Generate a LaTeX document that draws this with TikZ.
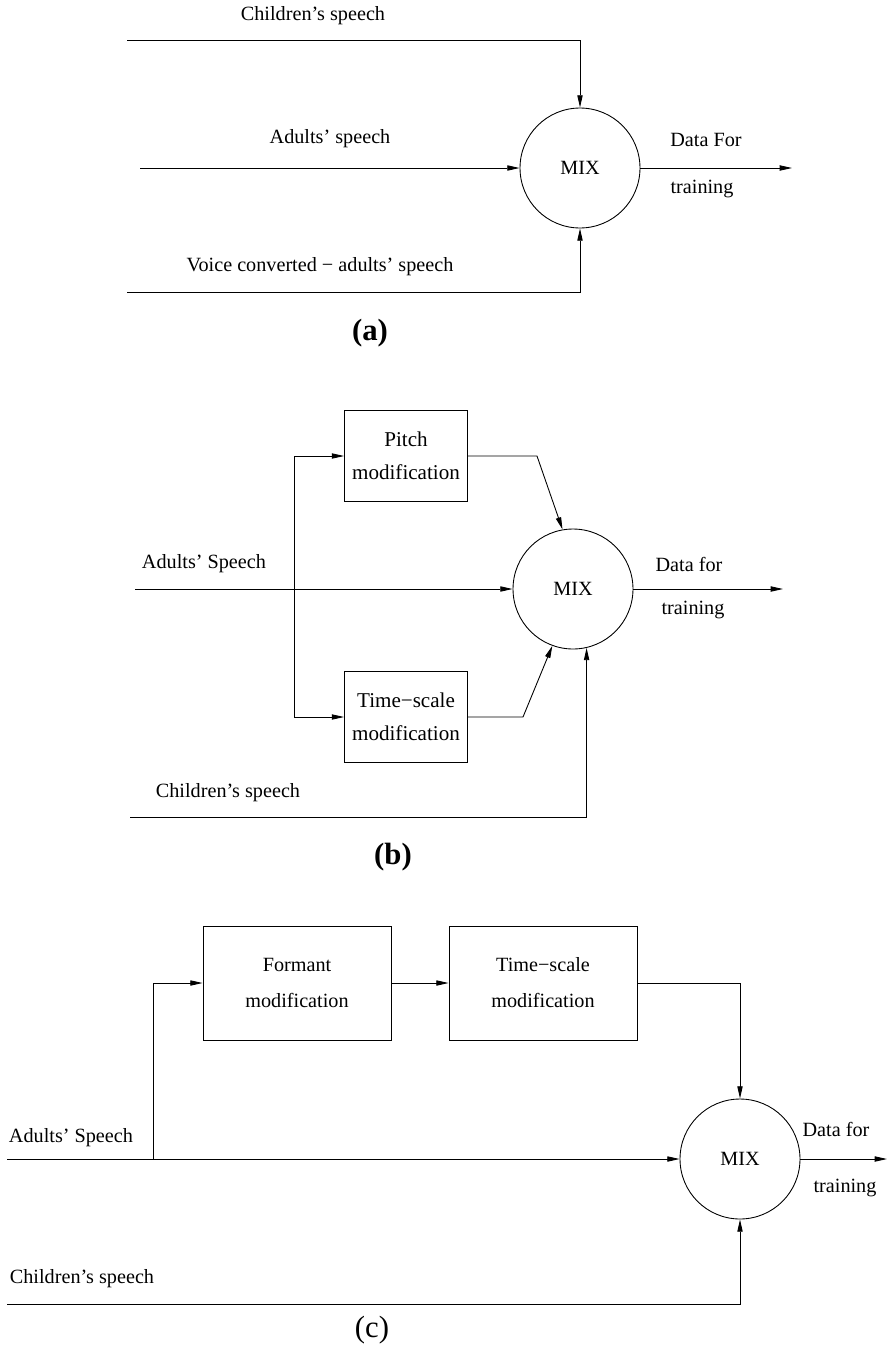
\documentclass[tikz,border=0pt]{standalone}
\usepackage{fontspec}
\setmainfont{Liberation Serif}
\usetikzlibrary{arrows.meta}
\begin{document}
\begin{tikzpicture}[x=0.02cm,y=-0.02cm,>={Triangle[length=7pt,width=3pt]},line width=.5pt,
  font=\fontsize{11.5}{13}\selectfont,
  mix/.style={draw,circle,minimum size=2.4cm,inner sep=0pt},
  blk/.style={draw,rectangle,align=center,inner sep=0pt,font=\fontsize{12}{18.5}\selectfont},
  wblk/.style={blk,minimum width=3.76cm,minimum height=2.28cm,font=\fontsize{11.5}{20.5}\selectfont},
  sblk/.style={blk,minimum width=2.46cm,minimum height=1.82cm},
  capt/.style={font=\fontsize{17.5}{20}\selectfont}]
\useasboundingbox (0,0) rectangle (889,1349);
% (a)
\node[mix] (mixa) at (580,168) {MIX};
\coordinate (cha) at (127,40);
\coordinate (ada) at (140,168);
\coordinate (vca) at (127,292);
\coordinate (outa) at (792,168);
\draw[->] (cha) -| (mixa);
\draw[->] (ada) -- (mixa);
\draw[->] (vca) -| (mixa);
\draw[->] (mixa) -- (outa);
\node (tcha) at (313,16) {Children's speech};
\node (tada) at (330,139) {Adults' speech};
\node (tvca) at (320,267) {Voice converted − adults' speech};
\node (tdata) at (706,140) {Data For};
\node (ttra) at (702,189) {training};
\node[capt] (capa) at (370,333) {\bfseries (a)};
% (b)
\node[mix] (mixb) at (573,589) {MIX};
\node[sblk] (pitch) at (406,456) {Pitch\\modification};
\node[sblk] (tsb) at (406,717) {Time−scale\\modification};
\coordinate (adb) at (135,589);
\coordinate (splitb) at (294,589);
\coordinate (pbend) at (537,456);
\coordinate (tbend) at (523,717);
\coordinate (chb) at (130,817);
\coordinate (outb) at (783,589);
\draw[->] (adb) -- (mixb);
\draw[->] (splitb) |- (pitch);
\draw[->] (splitb) |- (tsb);
\draw[->] (pitch) -- (pbend) -- (mixb.100);
\draw[->] (tsb) -- (tbend) -- (mixb.250);
\draw[->] (chb) -| (mixb.283);
\draw[->] (mixb) -- (outb);
\node (tadb) at (204,564) {Adults' Speech};
\node (tdatb) at (689,564) {Data for};
\node (ttrb) at (693,610) {training};
\node (tchb) at (228,793) {Children's speech};
\node[capt] (capb) at (393,857) {\bfseries (b)};
% (c)
\node[mix] (mixc) at (740,1159) {MIX};
\node[wblk] (formant) at (297,983) {Formant\\modification};
\node[wblk] (tsc) at (543,983) {Time−scale\\modification};
\coordinate (adc) at (7,1159);
\coordinate (splitc) at (153,1159);
\coordinate (chc) at (7,1304);
\coordinate (outc) at (887,1159);
\draw[->] (adc) -- (mixc);
\draw[->] (splitc) |- (formant);
\draw[->] (formant) -- (tsc);
\draw[->] (tsc) -| (mixc);
\draw[->] (chc) -| (mixc);
\draw[->] (mixc) -- (outc);
\node (tadc) at (71,1138) {Adults' Speech};
\node (tdatc) at (836,1129) {Data for};
\node (ttrc) at (845,1188) {training};
\node (tchc) at (82,1279) {Children's speech};
\node[capt] (capc) at (372,1330) {(c)};
\end{tikzpicture}
\end{document}
